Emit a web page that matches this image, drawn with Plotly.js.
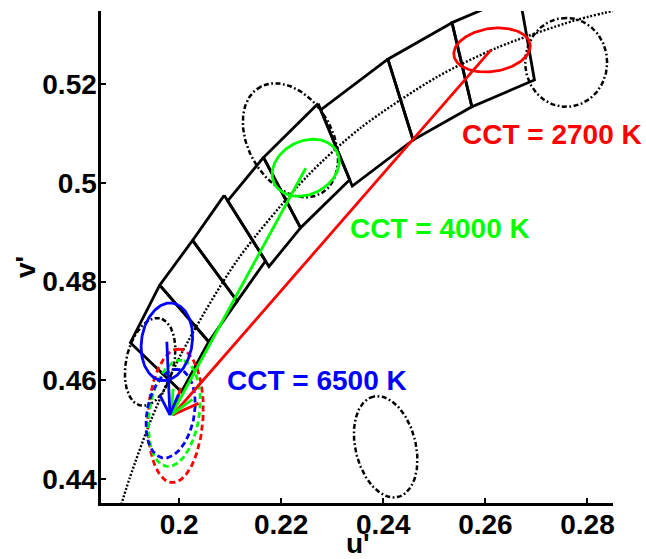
<!DOCTYPE html>
<html><head><meta charset="utf-8">
<script src="https://cdn.plot.ly/plotly-3.0.1.min.js"></script>
<style>html,body{margin:0;padding:0;background:#fff;}</style>
</head><body><div id="chart" style="width:646px;height:559px;"></div>
<script>
// ---------- data (u', v') ----------
// Planckian locus (dotted)
const locusU = [0.1878, 0.1903, 0.1946, 0.2005, 0.2115, 0.2252, 0.2357, 0.2505, 0.2624, 0.2776, 0.2901];
const locusV = [0.4318, 0.4401, 0.4522, 0.4655, 0.4845, 0.5015, 0.5113, 0.5215, 0.5275, 0.5330, 0.5361];

// ANSI quadrangles (4 corners each)
const quadCCT = ['6500', '5700', '5000', '4500', '4000', '3500', '3000', '2700'];
const quadU = [
  [0.1962, 0.19046, 0.20046, 0.2058],
  [0.20264, 0.1962, 0.2058, 0.21138],
  [0.20883, 0.20264, 0.21138, 0.21693],
  [0.21653, 0.20952, 0.21761, 0.22379],
  [0.22724, 0.21653, 0.22379, 0.23343],
  [0.24090, 0.22773, 0.23392, 0.24584],
  [0.25346, 0.24090, 0.24584, 0.25735],
  [0.26664, 0.25346, 0.25735, 0.26961]
];
const quadV = [
  [0.4793, 0.46761, 0.45764, 0.4678],
  [0.48836, 0.4793, 0.4678, 0.47604],
  [0.49751, 0.48836, 0.47604, 0.48420],
  [0.50519, 0.49640, 0.48307, 0.49091],
  [0.51613, 0.50519, 0.49091, 0.50069],
  [0.52513, 0.51483, 0.49938, 0.50873],
  [0.53253, 0.52513, 0.50873, 0.51548],
  [0.53836, 0.53253, 0.51548, 0.52091]
];

// black dash-dot ellipses: centre, semi-axes, orientation (deg)
const blackEllU = [0.19432, 0.22181, 0.27582, 0.24046];
const blackEllV = [0.46373, 0.50867, 0.52448, 0.44650];
const blackEllA = [0.00903, 0.01234, 0.00902, 0.01046];
const blackEllB = [0.00468, 0.00828, 0.00803, 0.00591];
const blackEllAng = [78, 118, 90, 103];

// solid coloured ellipses (red 2700 K, green 4000 K, blue 6500 K)
const ellColors = ['#ff0000', '#00ff00', '#0000ff'];
const solidEllU = [0.2613, 0.2248, 0.1976];
const solidEllV = [0.5270, 0.5031, 0.4678];
const solidEllA = [0.00755, 0.00693, 0.00792];
const solidEllB = [0.00436, 0.00535, 0.00497];
const solidEllAng = [9, 30, 82];

// dashed coloured ellipses
const dashEllU = [0.19931, 0.19906, 0.19833];
const dashEllV = [0.45279, 0.45329, 0.45323];
const dashEllA = [0.01356, 0.01086, 0.00910];
const dashEllB = [0.00539, 0.00490, 0.00463];
const dashEllAng = [87, 82, 80];

// arrows (tail -> tip)
const arrowTailU = [0.2611, 0.2248, 0.1976];
const arrowTailV = [0.5270, 0.5030, 0.4678];
const arrowTipU = [0.1988, 0.1985, 0.1982];
const arrowTipV = [0.4530, 0.4530, 0.4530];

// labels
const labelText = ['CCT = 2700 K', 'CCT = 4000 K', 'CCT = 6500 K'];
const labelU = [0.25505, 0.23317, 0.20901];
const labelV = [0.50993, 0.49082, 0.45992];

const xTicks = [0.2, 0.22, 0.24, 0.26, 0.28];
const yTicks = [0.44, 0.46, 0.48, 0.5, 0.52];
const xTitle = "u'";
const yTitle = "v'";

// ---------- layout geometry ----------
const W = 646, H = 559;
const margin = {l: 101, r: 33, t: 11, b: 56, pad: 0};
const xRange = [0.1847, 0.2850];
const yRange = [0.4351, 0.5349];
const plotW = W - margin.l - margin.r, plotH = H - margin.t - margin.b;
const sx = plotW / (xRange[1] - xRange[0]);
const sy = plotH / (yRange[1] - yRange[0]);

const FONT = 'Liberation Sans, Arial, Helvetica, sans-serif';
const traces = [];

function ellipsePts(cu, cv, a, b, angDeg) {
  const n = 160, phi = angDeg * Math.PI / 180;
  const xs = [], ys = [];
  for (let i = 0; i <= n; i++) {
    const t = 2 * Math.PI * i / n;
    const ca = a * Math.cos(t), cb = b * Math.sin(t);
    xs.push(cu + ca * Math.cos(phi) - cb * Math.sin(phi));
    ys.push(cv + ca * Math.sin(phi) + cb * Math.cos(phi));
  }
  return {xs, ys};
}

// locus
traces.push({x: locusU, y: locusV, mode: 'lines', type: 'scatter',
  line: {color: '#000', width: 2.4, dash: '2px,1.8px', shape: 'spline', smoothing: 0.8}, hoverinfo: 'skip'});

// quadrangles
for (let q = 0; q < quadU.length; q++) {
  traces.push({x: quadU[q].concat([quadU[q][0]]), y: quadV[q].concat([quadV[q][0]]),
    mode: 'lines', type: 'scatter', name: quadCCT[q], line: {color: '#000', width: 2.8}});
}

// black dash-dot ellipses
for (let i = 0; i < blackEllU.length; i++) {
  const e = ellipsePts(blackEllU[i], blackEllV[i], blackEllA[i], blackEllB[i], blackEllAng[i]);
  traces.push({x: e.xs, y: e.ys, mode: 'lines', type: 'scatter',
    line: {color: '#000', width: 2.5, dash: '5px,2.5px,1.8px,2.5px'}});
}

// dashed coloured ellipses
for (let i = 0; i < dashEllU.length; i++) {
  const e = ellipsePts(dashEllU[i], dashEllV[i], dashEllA[i], dashEllB[i], dashEllAng[i]);
  traces.push({x: e.xs, y: e.ys, mode: 'lines', type: 'scatter',
    line: {color: ellColors[i], width: 2.8, dash: '6px,3.5px'}});
}

// solid coloured ellipses
for (let i = 0; i < solidEllU.length; i++) {
  const e = ellipsePts(solidEllU[i], solidEllV[i], solidEllA[i], solidEllB[i], solidEllAng[i]);
  traces.push({x: e.xs, y: e.ys, mode: 'lines', type: 'scatter',
    line: {color: ellColors[i], width: 2.8}});
}

// arrows with open heads
const headLen = [28, 26, 22];
const headAng = 25 * Math.PI / 180;
for (let i = 0; i < arrowTailU.length; i++) {
  const dx = (arrowTailU[i] - arrowTipU[i]) * sx;
  const dy = (arrowTailV[i] - arrowTipV[i]) * sy;
  const L = Math.hypot(dx, dy);
  const ux = dx / L, uy = dy / L;
  const hx = [], hy = [];
  [headAng, -headAng].forEach(function (ang) {
    const rx = ux * Math.cos(ang) - uy * Math.sin(ang);
    const ry = ux * Math.sin(ang) + uy * Math.cos(ang);
    hx.push(arrowTipU[i] + rx * headLen[i] / sx);
    hy.push(arrowTipV[i] + ry * headLen[i] / sy);
  });
  traces.push({x: [arrowTailU[i], arrowTipU[i], null, hx[0], arrowTipU[i], hx[1]],
    y: [arrowTailV[i], arrowTipV[i], null, hy[0], arrowTipV[i], hy[1]],
    mode: 'lines', type: 'scatter', line: {color: ellColors[i], width: 2.8}});
}

const titleFont = {family: FONT, size: 28, color: '#000', weight: 'bold'};
const annotations = labelText.map(function (t, i) {
  return {x: labelU[i], y: labelV[i], xref: 'x', yref: 'y', text: t, showarrow: false,
    xanchor: 'left', yanchor: 'middle',
    font: {family: FONT, size: 28, color: ellColors[i], weight: 'bold'}};
});
// axis titles placed in the margins (pixel -> paper fraction)
annotations.push({text: xTitle, xref: 'paper', yref: 'paper', showarrow: false, borderpad: 0,
  x: (358 - margin.l) / plotW, y: (margin.t + plotH - 543) / plotH,
  xanchor: 'center', yanchor: 'middle', font: titleFont});
annotations.push({text: yTitle, xref: 'paper', yref: 'paper', showarrow: false, textangle: -90,
  x: (25 - margin.l) / plotW, y: (margin.t + plotH - 267) / plotH,
  xanchor: 'center', yanchor: 'middle', font: titleFont});

const axisCommon = {
  showgrid: false, zeroline: false, showline: true, linecolor: '#000', linewidth: 2.6,
  ticks: 'inside', ticklen: 5, tickwidth: 2, tickcolor: '#000',
  tickfont: {family: FONT, size: 28, color: '#000', weight: 'bold'},
  fixedrange: true
};

const layout = {
  width: W, height: H, margin: margin,
  paper_bgcolor: '#fff', plot_bgcolor: '#fff', showlegend: false,
  font: {family: FONT, color: '#000'},
  xaxis: Object.assign({}, axisCommon, {range: xRange, tickvals: xTicks, ticklabelstandoff: -5}),
  yaxis: Object.assign({}, axisCommon, {range: yRange, tickvals: yTicks, ticklabelstandoff: -4}),
  annotations: annotations
};

Plotly.newPlot('chart', traces, layout, {staticPlot: true, displayModeBar: false});
</script></body></html>
